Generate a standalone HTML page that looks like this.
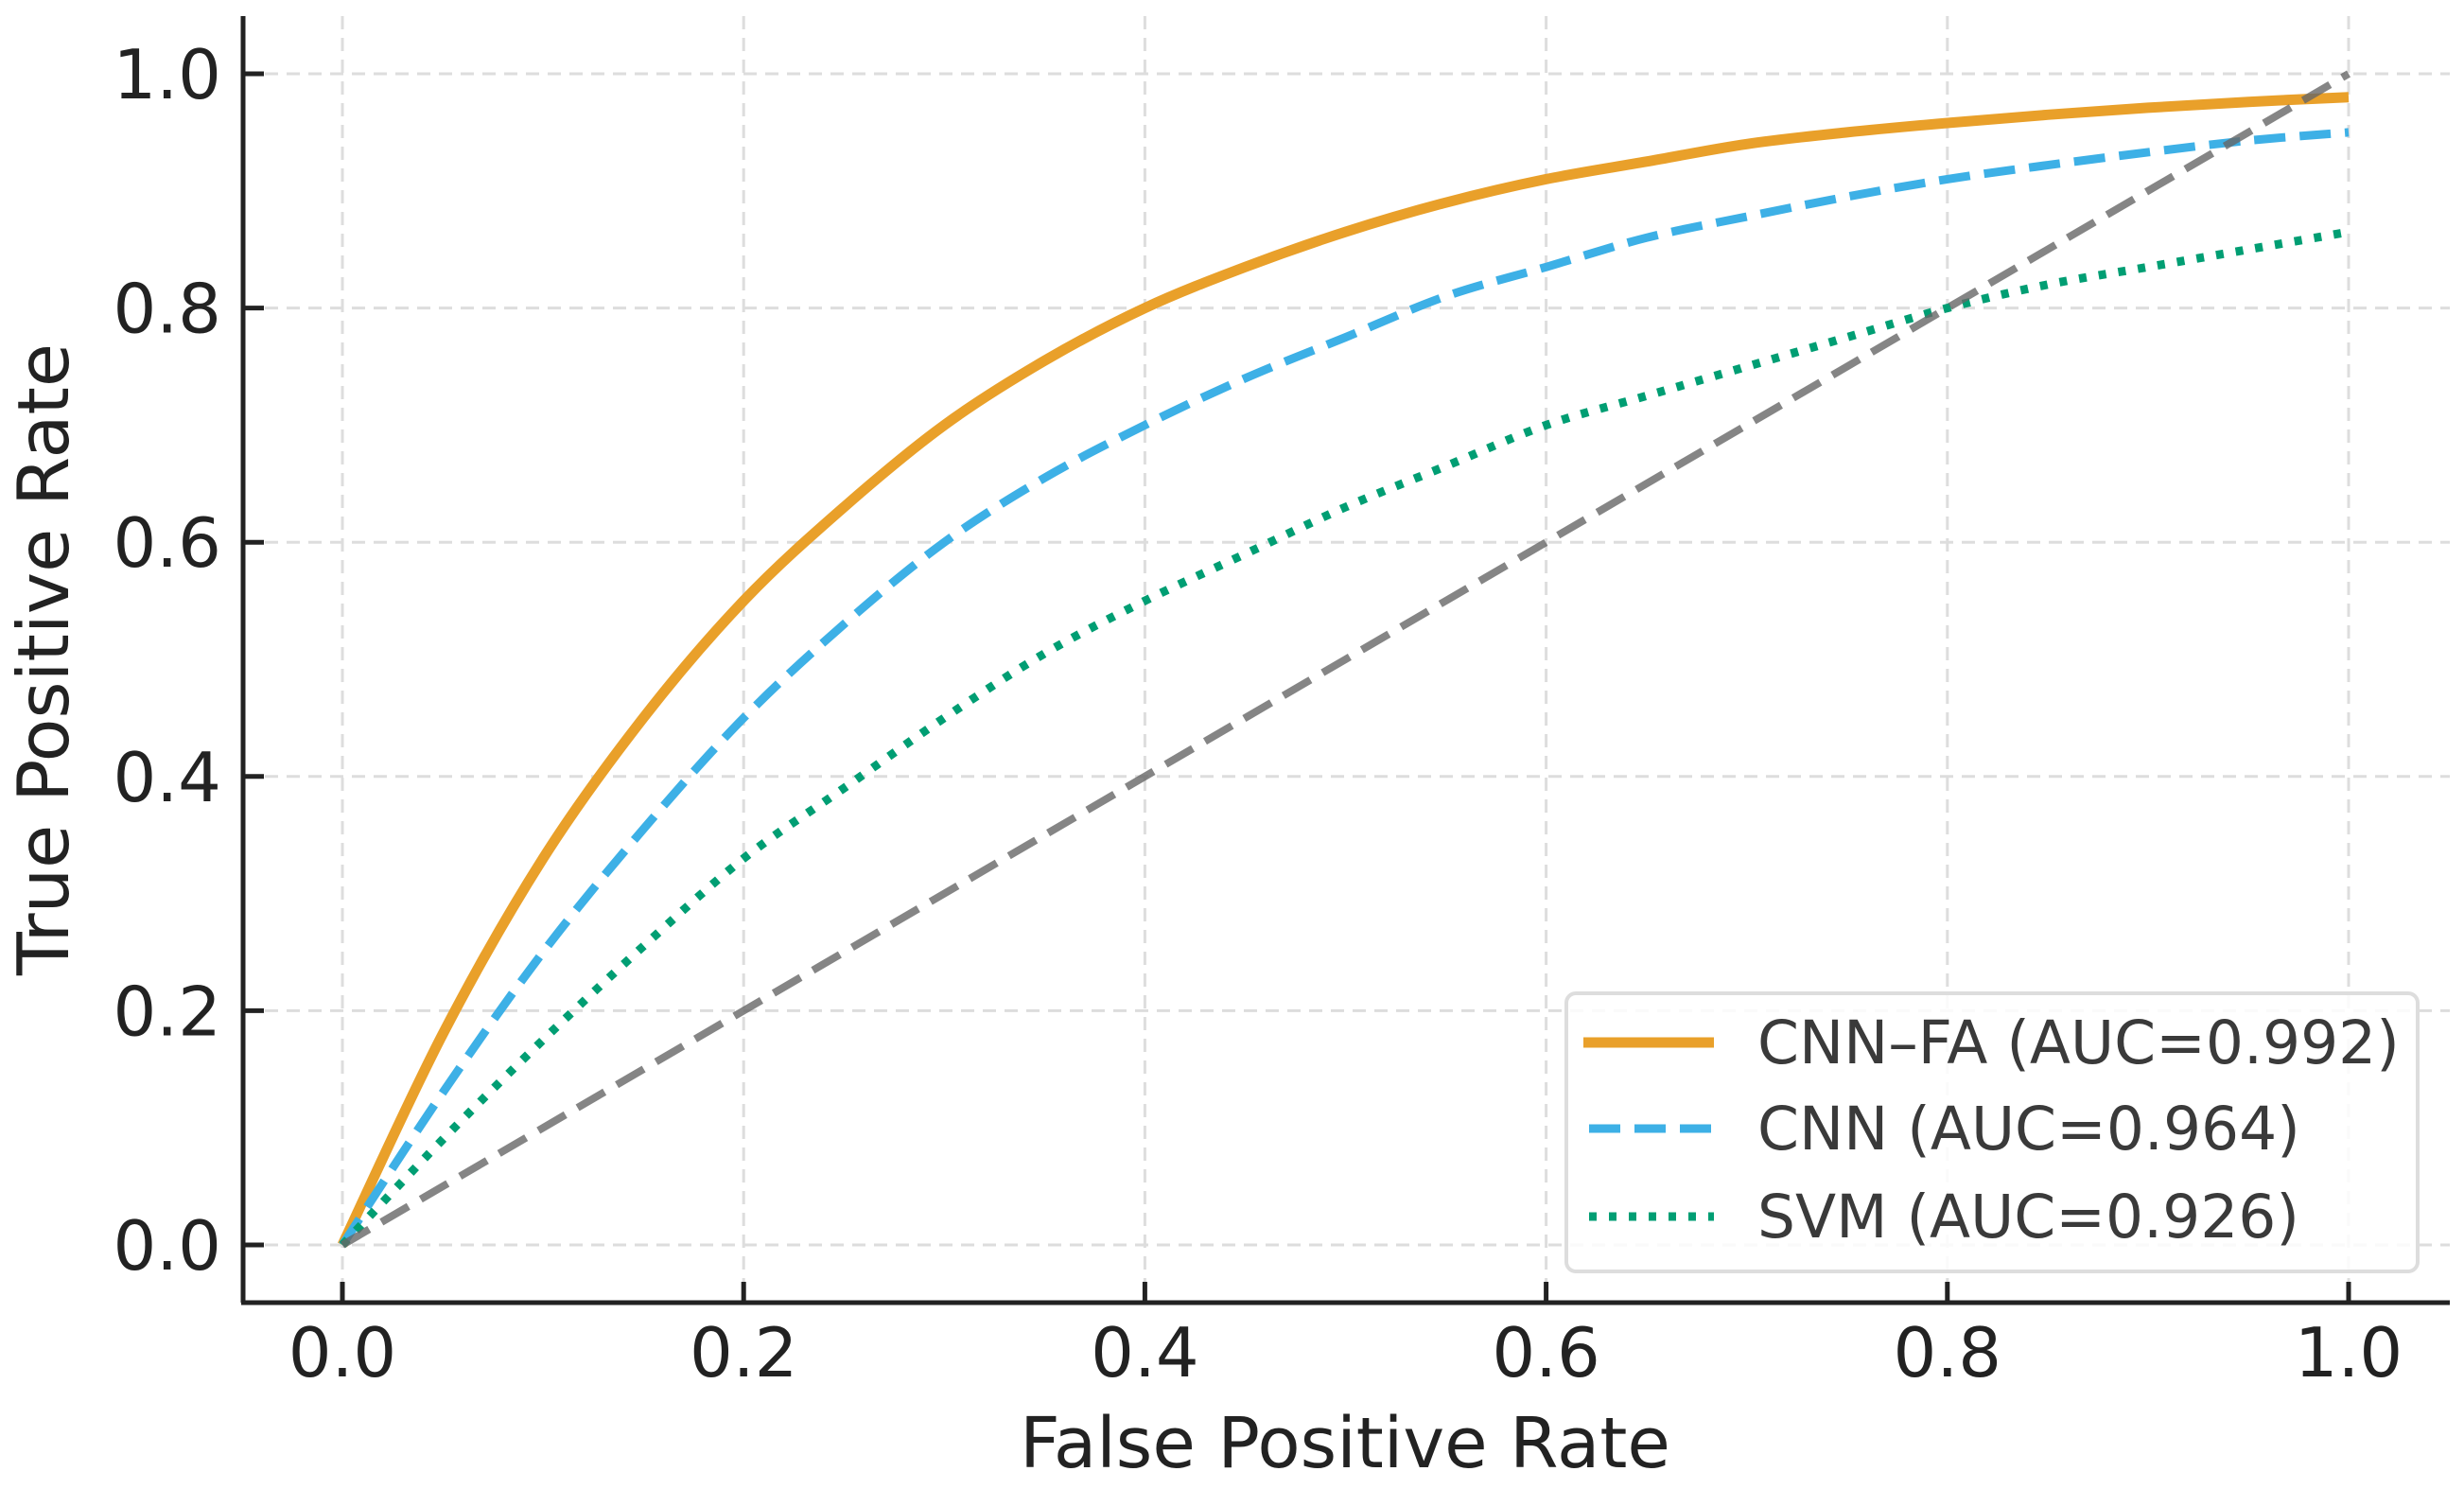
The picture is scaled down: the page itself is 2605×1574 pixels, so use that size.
<!DOCTYPE html>
<html><head><meta charset="utf-8"><style>
html,body{margin:0;padding:0;background:#fff;}
svg{display:block;font-family:"DejaVu Sans","Liberation Sans",sans-serif;}
</style></head><body>
<svg id="chart" width="2605" height="1574" viewBox="0 0 2605 1574">
<g id="grid"></g>
<g id="curves"></g>
<g id="axes">
<line x1="257" y1="17" x2="257" y2="1377" stroke="#222" stroke-width="5"/>
<line x1="255" y1="1377" x2="2590" y2="1377" stroke="#222" stroke-width="5"/>
</g>
<g id="ticks"></g>
<text x="1422" y="1551" font-size="74" fill="#222" text-anchor="middle">False Positive Rate</text>
<text transform="translate(72,697) rotate(-90)" font-size="75" fill="#222" text-anchor="middle">True Positive Rate</text>
<g>
<rect x="1656" y="1050" width="900" height="294" rx="10" fill="#fff" fill-opacity="0.85" stroke="#ddd" stroke-width="4"/>
<line x1="1674" y1="1102" x2="1812" y2="1102" stroke="#E9A02A" stroke-width="11"/>
<text x="1858" y="1124" font-size="63" fill="#3a3a3a">CNN–FA (AUC=0.992)</text>
<line x1="1680" y1="1193" x2="1812" y2="1193" stroke="#3DB0E6" stroke-width="9" stroke-dasharray="33,15"/>
<text x="1858" y="1215" font-size="63" fill="#3a3a3a">CNN (AUC=0.964)</text>
<line x1="1680" y1="1286" x2="1812" y2="1286" stroke="#009E73" stroke-width="9" stroke-dasharray="8,13"/>
<text x="1858" y="1308" font-size="63" fill="#3a3a3a">SVM (AUC=0.926)</text>
</g>
</svg>
<script>
const fpr = [0,0.05,0.1,0.15,0.2,0.25,0.3,0.35,0.4,0.45,0.5,0.55,0.6,0.65,0.7,0.75,0.8,0.85,0.9,0.95,1.0];
const tprCnnFa = [0,0.18,0.33,0.45,0.55,0.63,0.70,0.755,0.80,0.835,0.865,0.89,0.91,0.925,0.94,0.95,0.958,0.965,0.971,0.976,0.98];
const tprCnn = [0,0.13,0.25,0.355,0.45,0.53,0.60,0.655,0.70,0.74,0.775,0.81,0.835,0.86,0.878,0.895,0.91,0.922,0.933,0.943,0.95];
const tprSvm = [0,0.09,0.175,0.255,0.33,0.39,0.45,0.505,0.55,0.59,0.63,0.665,0.70,0.725,0.75,0.775,0.80,0.82,0.835,0.85,0.865];
const diagX = [0,1];
const diagY = [0,1];
const xTicks = [0,0.2,0.4,0.6,0.8,1.0];
const yTicks = [0,0.2,0.4,0.6,0.8,1.0];
const xTickLabels = ["0.0","0.2","0.4","0.6","0.8","1.0"];
const yTickLabels = ["0.0","0.2","0.4","0.6","0.8","1.0"];

const NS="http://www.w3.org/2000/svg";
function sx(v){return 362 + v*2121;}
function sy(v){return 1316 - v*1238;}
function mk(tag, parent){const e=document.createElementNS(NS,tag);parent.appendChild(e);return e;}
const grid=document.getElementById('grid'), ticks=document.getElementById('ticks'), curves=document.getElementById('curves');
xTicks.forEach((v,i)=>{
  const g=mk('line',grid);
  
  
  g.setAttribute('x1',sx(v));g.setAttribute('x2',sx(v));g.setAttribute('y1',17);g.setAttribute('y2',1377);
  g.setAttribute('stroke','#ddd');g.setAttribute('stroke-width','3');g.setAttribute('stroke-dasharray','14,9');
  const t=mk('line',ticks);
  
  
  t.setAttribute('x1',sx(v));t.setAttribute('x2',sx(v));t.setAttribute('y1',1355);t.setAttribute('y2',1377);
  t.setAttribute('stroke','#222');t.setAttribute('stroke-width','5');
  const l=mk('text',ticks);
  
  
  l.setAttribute('x',sx(v));l.setAttribute('y',1455);l.setAttribute('font-size','72');l.setAttribute('fill','#222');l.setAttribute('text-anchor','middle');
  l.textContent=xTickLabels[i];
});
yTicks.forEach((v,i)=>{
  const g=mk('line',grid);
  
  
  g.setAttribute('x1',257);g.setAttribute('x2',2590);g.setAttribute('y1',sy(v));g.setAttribute('y2',sy(v));
  g.setAttribute('stroke','#ddd');g.setAttribute('stroke-width','3');g.setAttribute('stroke-dasharray','14,9');
  const t=mk('line',ticks);
  
  
  t.setAttribute('x1',257);t.setAttribute('x2',279);t.setAttribute('y1',sy(v));t.setAttribute('y2',sy(v));
  t.setAttribute('stroke','#222');t.setAttribute('stroke-width','5');
  const l=mk('text',ticks);
  
  
  l.setAttribute('x',234);l.setAttribute('y',sy(v)+26);l.setAttribute('font-size','72');l.setAttribute('fill','#222');l.setAttribute('text-anchor','end');
  l.textContent=yTickLabels[i];
});
function smoothPath(xs,ys){
  const P=xs.map((x,i)=>[sx(x),sy(ys[i])]);
  let d='M'+P[0][0]+','+P[0][1];
  for(let i=0;i<P.length-1;i++){
    const p0=P[Math.max(0,i-1)],p1=P[i],p2=P[i+1],p3=P[Math.min(P.length-1,i+2)];
    const c1=[p1[0]+(p2[0]-p0[0])/6,p1[1]+(p2[1]-p0[1])/6];
    const c2=[p2[0]-(p3[0]-p1[0])/6,p2[1]-(p3[1]-p1[1])/6];
    d+=' C'+c1[0]+','+c1[1]+' '+c2[0]+','+c2[1]+' '+p2[0]+','+p2[1];
  }
  return d;
}
function curve(xs,ys,color,w,dash,name,op){
  const p=mk('path',curves);
  
  
  p.setAttribute('d',smoothPath(xs,ys));
  p.setAttribute('fill','none');p.setAttribute('stroke',color);p.setAttribute('stroke-width',w);
  p.setAttribute('stroke-linejoin','round');
  if(dash)p.setAttribute('stroke-dasharray',dash);
  if(op)p.setAttribute('stroke-opacity',op);
}
curve(fpr,tprCnnFa,'#E9A02A',11,null,'cnn-fa-curve');
curve(fpr,tprCnn,'#3DB0E6',9,'33,15','cnn-curve');
curve(fpr,tprSvm,'#009E73',9,'8,13','svm-curve');
curve(diagX,diagY,'#666',8,'33,15','chance-diagonal',0.8);
</script>
</body></html>
